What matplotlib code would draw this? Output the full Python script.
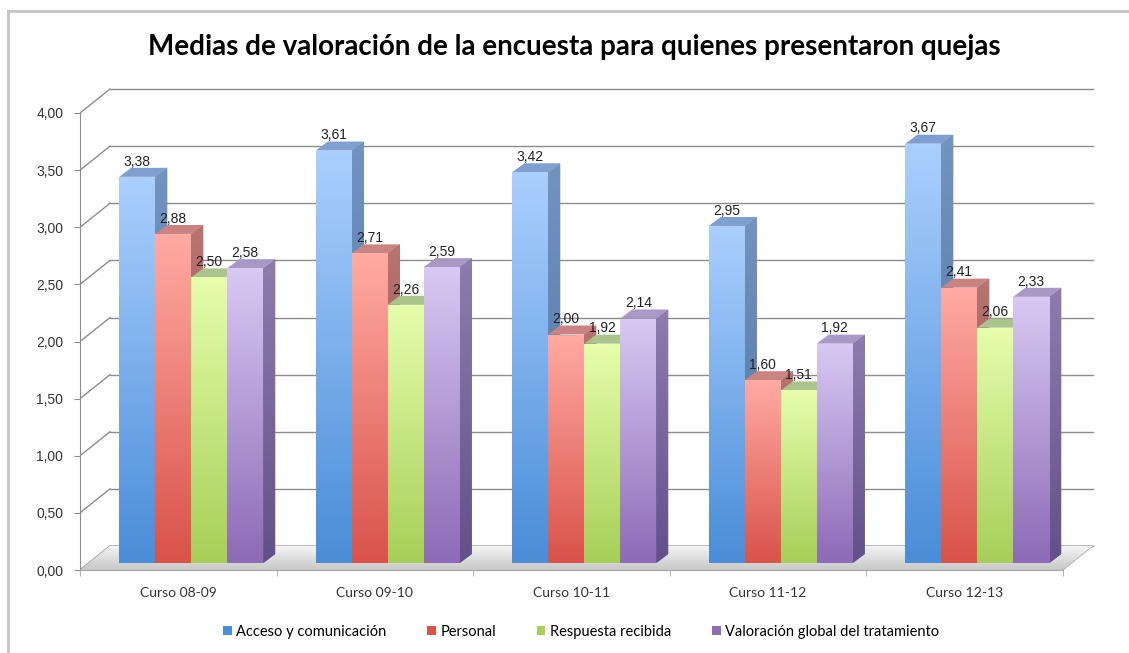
import numpy as np
import matplotlib
matplotlib.use("Agg")
import matplotlib.pyplot as plt
from matplotlib.colors import LinearSegmentedColormap
from matplotlib.patches import Polygon, Patch
from matplotlib.lines import Line2D

# data
cursos = ["Curso 08-09", "Curso 09-10", "Curso 10-11", "Curso 11-12", "Curso 12-13"]
series = ["Acceso y comunicación", "Personal", "Respuesta recibida",
          "Valoración global del tratamiento"]
acceso = [3.38, 3.61, 3.42, 2.95, 3.67]
personal = [2.88, 2.71, 2.00, 1.60, 2.41]
respuesta = [2.50, 2.26, 1.92, 1.51, 2.06]
valoracion = [2.58, 2.59, 2.14, 1.92, 2.33]
yticks = [0, 0.5, 1.0, 1.5, 2.0, 2.5, 3.0, 3.5, 4.0]

# colours: front top, front bottom, top face, side top, side bottom
styles = [
    ("#aacffe", "#4a8dd8", "#7e9fcf", "#7393c0", "#4e6f9c"),
    ("#ffaaa2", "#d9534a", "#c98482", "#b77471", "#8f4a48"),
    ("#e6fdab", "#a7cf58", "#abc48c", "#9bb77c", "#7d9a55"),
    ("#d8c8f3", "#8d6bb7", "#a898c6", "#8e7cae", "#63508a"),
]
values = [acceso, personal, respuesta, valoracion]

W, H = 1129, 653
fig = plt.figure(figsize=(W / 100, H / 100), dpi=100)
ax = fig.add_axes([80 / W, (H - 570) / H, 1020 / W, 483 / H])

xl = (-0.5, -0.5 + 1020 / 196.5)
yl = (0, 483 / 114.25)
# depth of the walls / bars, in data units
dx, dy = 30 / 196.5, 24 / 114.25
bx, by = 13 / 196.5, 7 / 114.25
bdx, bdy = 12 / 196.5, 9 / 114.25
w = 36 / 196.5
n = len(cursos)
grid_c = "#8c8c8c"


def grad_fill(patch, c_top, c_bot, z):
    patch.set_zorder(z)
    ax.add_patch(patch)
    xy = patch.get_xy()
    cmap = LinearSegmentedColormap.from_list("g", [c_top, c_bot])
    g = np.linspace(0, 1, 64).reshape(-1, 1)
    im = ax.imshow(g, cmap=cmap, aspect="auto", origin="upper", zorder=z + 0.01,
                   extent=[xy[:, 0].min(), xy[:, 0].max(), xy[:, 1].min(), xy[:, 1].max()],
                   interpolation="bilinear")
    im.set_clip_path(patch)


# walls and gridlines
for t in yticks:
    ax.plot([-0.5, -0.5 + dx], [t, t + dy], color=grid_c, lw=1, zorder=1)
    ax.plot([-0.5 + dx, n - 0.5 + dx], [t + dy, t + dy], color=grid_c, lw=1, zorder=1)

floor = Polygon([(-0.5, 0), (n - 0.5, 0), (n - 0.5 + dx, dy), (-0.5 + dx, dy)],
                closed=True, facecolor="#e2e2e2", edgecolor="#a6a6a6", lw=1)
grad_fill(floor, "#f4f4f4", "#c8c8c8", 2)

# bars
x = np.arange(n)
z = 3
for i in range(n):
    for s in range(4):
        v = values[s][i]
        c_ft, c_fb, c_top, c_st, c_sb = styles[s]
        x0 = x[i] - 2 * w + s * w + bx
        x1 = x0 + w
        side = Polygon([(x1, by), (x1 + bdx, by + bdy), (x1 + bdx, v + by + bdy), (x1, v + by)],
                       closed=True, facecolor=c_sb, edgecolor="none")
        grad_fill(side, c_st, c_sb, z)
        top = Polygon([(x0, v + by), (x1, v + by), (x1 + bdx, v + by + bdy), (x0 + bdx, v + by + bdy)],
                      closed=True, facecolor=c_top, edgecolor="none", zorder=z + 0.1)
        ax.add_patch(top)
        front = ax.bar(x0, v, w, bottom=by, align="edge", color=c_fb, zorder=z + 0.2)[0]
        cmap = LinearSegmentedColormap.from_list("g", [c_ft, c_fb])
        im = ax.imshow(np.linspace(0, 1, 64).reshape(-1, 1), cmap=cmap, aspect="auto",
                       origin="upper", extent=[x0, x1, by, v + by], zorder=z + 0.21,
                       interpolation="bilinear")
        im.set_clip_path(front)
        ax.text((x0 + x1) / 2, v + by + bdy + 0.02, f"{v:.2f}".replace(".", ","),
                ha="center", va="baseline", fontsize=10, family="Liberation Sans",
                color="#222222", zorder=50)
        z += 1

ax.set_xlim(*xl)
ax.set_ylim(*yl)
for sp in ["top", "right"]:
    ax.spines[sp].set_visible(False)
ax.spines["left"].set_bounds(0, 4)
ax.spines["left"].set_color(grid_c)
ax.spines["bottom"].set_bounds(-0.5, n - 0.5)
ax.spines["bottom"].set_color("#a6a6a6")
ax.set_yticks(yticks)
ax.set_yticklabels([f"{t:.2f}".replace(".", ",") for t in yticks],
                   fontsize=10, family="Liberation Sans", color="#333333")
ax.tick_params(axis="y", length=4, color=grid_c, pad=8)
ax.set_xticks(x)
ax.set_xticklabels(cursos, fontsize=10, family="Lato", color="#333333")
ax.set_xticks(np.arange(n + 1) - 0.5, minor=True)
ax.tick_params(axis="x", which="major", length=0, pad=12)
ax.tick_params(axis="x", which="minor", length=4, color="#a6a6a6")
ax.set_facecolor("none")

fig.text(574 / W, 1 - 47 / H, "Medias de valoración de la encuesta para quienes presentaron quejas",
         ha="center", va="center", fontsize=20, fontweight="bold", family="Lato")

handles = [Patch(facecolor=st[1], edgecolor="none") for st in styles]
fig.legend(handles, series, loc="center", bbox_to_anchor=(581 / W, 1 - 632 / H), ncol=4,
           frameon=False, prop={"family": "Lato", "size": 10.5}, handlelength=0.6,
           handleheight=0.6, handletextpad=0.3, columnspacing=2.8)

# outer chart frame
fig.add_artist(Line2D([8 / W, 8 / W], [0, 1 - 11 / H], color="#c4c4c4", lw=2))
fig.add_artist(Line2D([8 / W, 1], [1 - 11 / H, 1 - 11 / H], color="#c4c4c4", lw=2))

fig.savefig("out.png", dpi=100)
